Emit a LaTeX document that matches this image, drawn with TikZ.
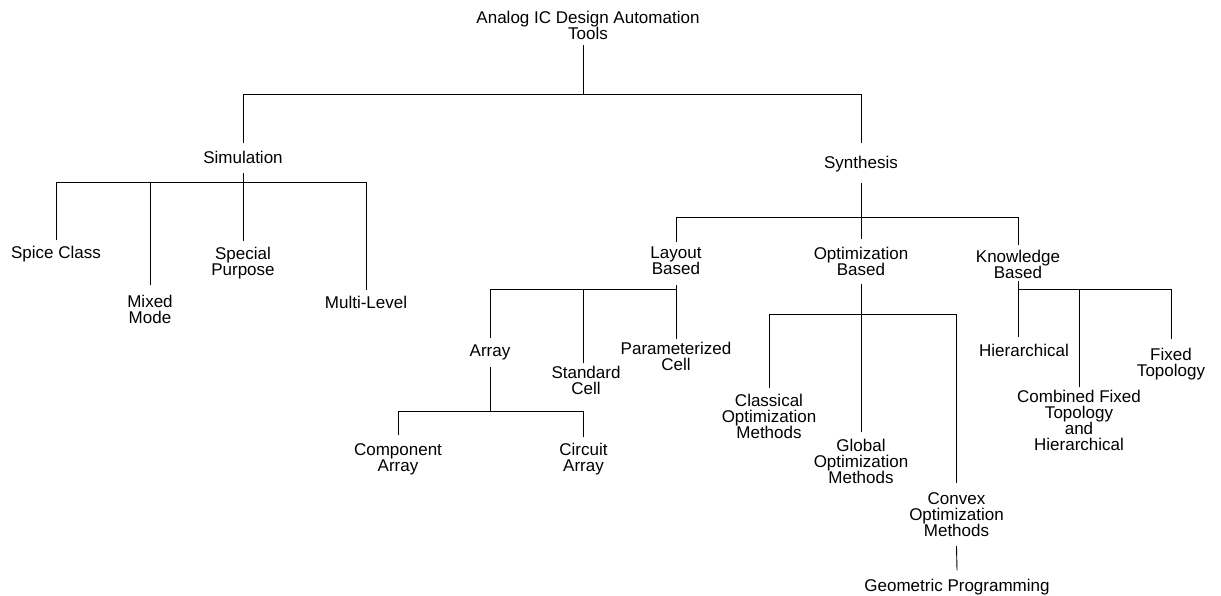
\documentclass[tikz,border=0pt]{standalone}
\usepackage{fontspec}
\setmainfont{Liberation Sans}
\newcommand\lblfont{\fontsize{17}{16}\selectfont\lineskiplimit=-8pt\relax}
\tikzset{
  lbl/.style={anchor=north, inner sep=0pt, align=center, font=\lblfont},
  wire/.style={line width=0.9pt, line cap=rect}
}
\begin{document}
\begin{tikzpicture}[x=1pt,y=-1pt]
\useasboundingbox (0,0) rectangle (1221,595);

% tree labels
\node[lbl] (root)    at (588,11)   {Analog IC Design Automation\\Tools};
\node[lbl] (sim)     at (243,151)  {Simulation};
\node[lbl] (syn)     at (861,156)  {Synthesis};
\node[lbl] (spice)   at (56,246)   {Spice Class};
\node[lbl] (mixed)   at (150,295)  {Mixed\\Mode};
\node[lbl] (special) at (243,247)  {Special\\Purpose};
\node[lbl] (multi)   at (366,296)  {Multi-Level};
\node[lbl] (layout)  at (676,247)  {Layout\\Based};
\node[lbl] (opt)     at (861,247)  {Optimization\\Based};
\node[lbl] (know)    at (1018,250) {Knowledge\\Based};
\node[lbl] (array)   at (490,345)  {Array};
\node[lbl] (std)     at (586,366)  {Standard\\Cell};
\node[lbl] (param)   at (676,342)  {Parameterized\\Cell};
\node[lbl] (comp)    at (398,443)  {Component\\Array};
\node[lbl] (circ)    at (583.5,443){Circuit\\Array};
\node[lbl] (class)   at (769,394)  {Classical\\Optimization\\Methods};
\node[lbl] (glob)    at (861,439)  {Global\\Optimization\\Methods};
\node[lbl] (convex)  at (956.5,492){Convex\\Optimization\\Methods};
\node[lbl] (geo)     at (957,579)  {Geometric Programming};
\node[lbl] (hier)    at (1024,344) {Hierarchical};
\node[lbl] (comb)    at (1079,390) {Combined Fixed\\Topology\\and\\Hierarchical};
\node[lbl] (fixed)   at (1171,348) {Fixed\\Topology};

% levels of the horizontal bars
\coordinate (b0) at (0,94);
\coordinate (b1) at (0,182);
\coordinate (b2) at (0,217);
\coordinate (b3) at (0,289);
\coordinate (b4) at (0,314);
\coordinate (b5) at (0,289);
\coordinate (b6) at (0,411);

% root
\draw[wire] ([xshift=-5pt,yshift=-6pt]root.south) -- ([xshift=-5pt]root.south |- b0);
\draw[wire] ([yshift=8pt]sim.north) -- (sim.north |- b0) -- (syn.north |- b0) -- ([yshift=13pt]syn.north);

% simulation branch
\draw[wire] ([yshift=-10pt]sim.south) -- (sim.south |- b1);
\draw[wire] ([yshift=6pt]spice.north) -- (spice.north |- b1) -- (multi.north |- b1) -- ([yshift=6pt]multi.north);
\draw[wire] ([yshift=10pt]mixed.north) -- (mixed.north |- b1);
\draw[wire] ([yshift=6pt]special.north) -- (special.north |- b1);

% synthesis branch
\draw[wire] ([yshift=-11pt]syn.south) -- (syn.south |- b2);
\draw[wire] ([yshift=5pt]layout.north) -- (layout.north |- b2) -- (know.north |- b2) -- ([yshift=5pt]know.north);
\draw[wire] ([yshift=8pt]opt.north) -- (opt.north |- b2);

% layout based
\draw[wire] ([yshift=-10pt]layout.south) -- (layout.south |- b3);
\draw[wire] ([yshift=7pt]array.north) -- (array.north |- b3) -- (param.north |- b3) -- ([yshift=3pt]param.north);
\draw[wire] ([xshift=-3pt,yshift=3pt]std.north) -- ([xshift=-3pt]std.north |- b3);

% array
\draw[wire] ([yshift=-7pt]array.south) -- (array.south |- b6);
\draw[wire] ([yshift=8pt]comp.north) -- (comp.north |- b6) -- (circ.north |- b6) -- ([yshift=6pt]circ.north);

% optimization based
\draw[wire] ([yshift=-9pt]opt.south) -- ([yshift=7pt]glob.north);
\draw[wire] ([yshift=6pt]class.north) -- (class.north |- b4) -- (convex.north |- b4) -- ([yshift=9pt]convex.north);
\draw[wire] ([yshift=-10pt]convex.south) -- ([yshift=9pt]geo.north);

% knowledge based
\draw[wire] ([yshift=-3pt]know.south) -- (know.south |- b5);
\draw[wire] ([xshift=-6pt,yshift=7pt]hier.north) -- ([xshift=-6pt]hier.north |- b5) -- (fixed.north |- b5) -- ([yshift=9pt]fixed.north);
\draw[wire] ([yshift=3pt]comb.north) -- (comb.north |- b5);
\end{tikzpicture}
\end{document}
